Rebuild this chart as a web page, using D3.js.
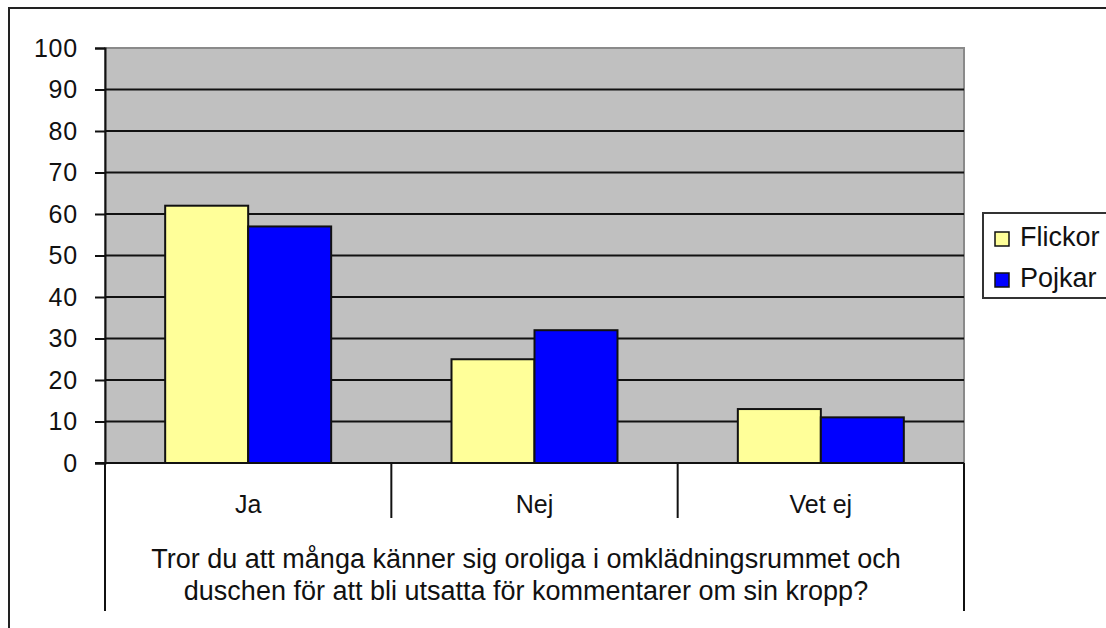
<!DOCTYPE html>
<html>
<head>
<meta charset="utf-8">
<script src="https://cdn.jsdelivr.net/npm/d3@7"></script>
<style>
  body { margin: 0; background: #fff; }
  svg { display: block; font-family: "Liberation Sans", Arial, sans-serif; }
</style>
</head>
<body>
<svg id="chart" width="1106" height="628"></svg>
<script>
const categories = ['Ja', 'Nej', 'Vet ej']
const seriesNames = ['Flickor', 'Pojkar']
const flickor = [62, 25, 13]
const pojkar = [57, 32, 11]
const yTicks = [0, 10, 20, 30, 40, 50, 60, 70, 80, 90, 100]
const titleLines = [
  'Tror du att många känner sig oroliga i omklädningsrummet och',
  'duschen för att bli utsatta för kommentarer om sin kropp?'
]

const colors = { Flickor: '#ffff99', Pojkar: '#0000ff' }
const plot = { left: 105, right: 964, top: 48, bottom: 463 }

const rows = categories.map((c, i) => ({ cat: c, Flickor: flickor[i], Pojkar: pojkar[i] }))

const svg = d3.select('#chart')

// outer chart border (right and bottom run off the picture)
svg.append('rect')
  .attr('x', 9).attr('y', 8)
  .attr('width', 1200).attr('height', 700)
  .attr('fill', '#fff').attr('stroke', '#222').attr('stroke-width', 2)

const x0 = d3.scaleBand().domain(categories).range([plot.left, plot.right])
const x1 = d3.scaleBand().domain(seriesNames).range([0, x0.bandwidth()]).paddingOuter(0.725)
const y = d3.scaleLinear().domain([0, 100]).range([plot.bottom, plot.top])

// plot area
svg.append('rect')
  .attr('x', plot.left).attr('y', plot.top)
  .attr('width', plot.right - plot.left).attr('height', plot.bottom - plot.top)
  .attr('fill', '#c0c0c0').attr('stroke', '#8a8a8a').attr('stroke-width', 2)

svg.append('g')
  .selectAll('line')
  .data(yTicks.filter(t => t > 0 && t < 100))
  .join('line')
  .attr('x1', plot.left).attr('x2', plot.right)
  .attr('y1', d => y(d)).attr('y2', d => y(d))
  .attr('stroke', '#111').attr('stroke-width', 2)

// bars
svg.append('g')
  .selectAll('g')
  .data(rows)
  .join('g')
  .attr('transform', d => `translate(${x0(d.cat)},0)`)
  .selectAll('rect')
  .data(d => seriesNames.map(s => ({ s, v: d[s] })))
  .join('rect')
  .attr('x', d => x1(d.s))
  .attr('width', x1.bandwidth())
  .attr('y', d => y(d.v))
  .attr('height', d => y(0) - y(d.v))
  .attr('fill', d => colors[d.s])
  .attr('stroke', '#111').attr('stroke-width', 2)

// y axis
const yAxis = svg.append('g')
  .attr('transform', `translate(${plot.left},0)`)
  .call(d3.axisLeft(y).tickValues(yTicks).tickSize(10).tickPadding(17))
yAxis.select('.domain').attr('stroke', '#111').attr('stroke-width', 2)
yAxis.selectAll('.tick line').attr('stroke', '#111').attr('stroke-width', 2)
yAxis.selectAll('.tick text')
  .attr('font-size', 25).attr('fill', '#111')
  .attr('letter-spacing', 0.8)
  .attr('font-family', '"Liberation Sans", Arial, sans-serif')

// x axis
const xAxis = svg.append('g')
  .attr('transform', `translate(0,${plot.bottom})`)
  .call(d3.axisBottom(x0).tickSize(0).tickPadding(32))
xAxis.select('.domain').remove()
xAxis.selectAll('.tick text')
  .attr('font-size', 25).attr('fill', '#111')
  .attr('font-family', '"Liberation Sans", Arial, sans-serif')

svg.append('line')
  .attr('x1', plot.left - 10).attr('x2', plot.right)
  .attr('y1', plot.bottom).attr('y2', plot.bottom)
  .attr('stroke', '#111').attr('stroke-width', 2)

// category dividers
const inner = categories.slice(1).map(c => x0(c))
svg.append('g')
  .selectAll('line')
  .data(inner)
  .join('line')
  .attr('x1', d => d).attr('x2', d => d)
  .attr('y1', plot.bottom).attr('y2', 518)
  .attr('stroke', '#111').attr('stroke-width', 2)
svg.append('g')
  .selectAll('line')
  .data(x0.range())
  .join('line')
  .attr('x1', d => d).attr('x2', d => d)
  .attr('y1', plot.bottom).attr('y2', 611)
  .attr('stroke', '#111').attr('stroke-width', 2)

// axis title
svg.append('g')
  .selectAll('text')
  .data(titleLines)
  .join('text')
  .attr('x', 526)
  .attr('y', (d, i) => 568 + i * 32)
  .attr('text-anchor', 'middle')
  .attr('font-size', 27)
  .attr('fill', '#111')
  .text(d => d)

// legend
const legend = svg.append('g')
legend.append('rect')
  .attr('x', 983).attr('y', 213)
  .attr('width', 200).attr('height', 85)
  .attr('fill', '#fff').attr('stroke', '#333').attr('stroke-width', 2)
const item = legend.selectAll('g.item')
  .data(seriesNames)
  .join('g')
  .attr('class', 'item')
  .attr('transform', (d, i) => `translate(995,${232 + i * 41})`)
item.append('rect')
  .attr('width', 14).attr('height', 14)
  .attr('fill', d => colors[d])
  .attr('stroke', '#111').attr('stroke-width', 1.5)
item.append('text')
  .attr('x', 25).attr('y', 14)
  .attr('font-size', 27)
  .attr('fill', '#111')
  .text(d => d)
</script>
</body>
</html>
